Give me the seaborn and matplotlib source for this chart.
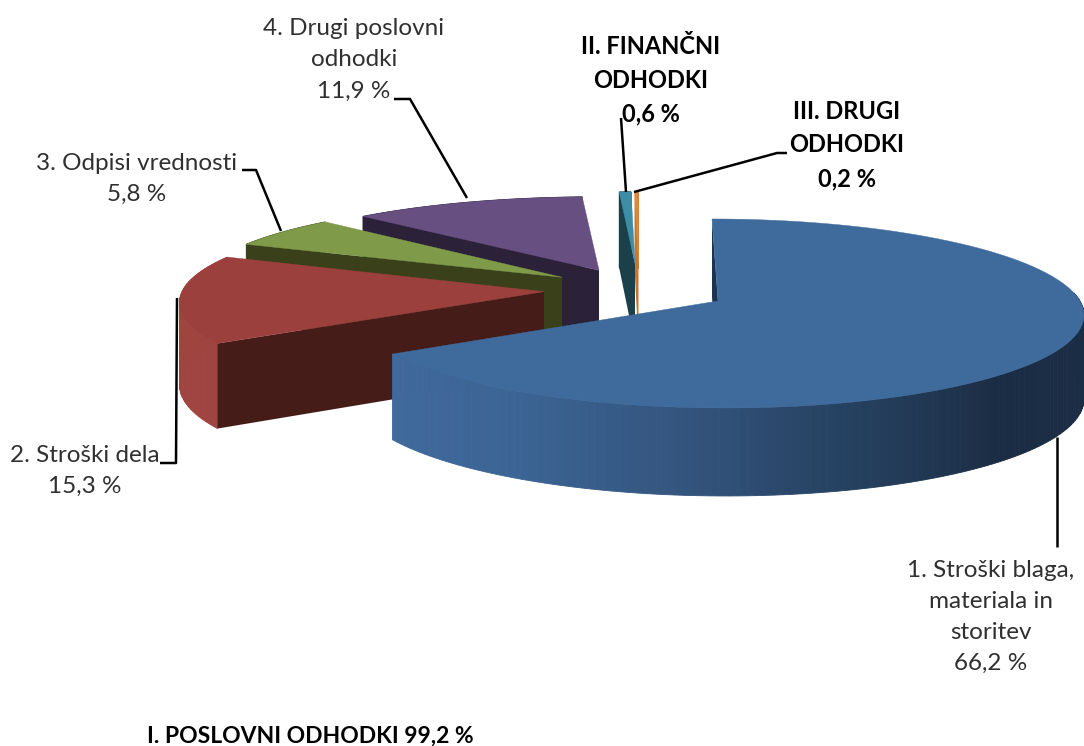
import numpy as np
import matplotlib
matplotlib.use('Agg')
import matplotlib.pyplot as plt
import seaborn as sns

# Podatki
categories = ['1. Stroški blaga,\nmateriala in\nstoritev', '2. Stroški dela', '3. Odpisi vrednosti',
              '4. Drugi poslovni\nodhodki', 'II. FINANČNI\nODHODKI', 'III. DRUGI\nODHODKI']
values = [66.2, 15.3, 5.8, 11.9, 0.6, 0.2]
group_label = 'I. POSLOVNI ODHODKI'
group_value = 99.2

top_colors = ['#3f6a9c', '#9b403d', '#7f9a48', '#674f82', '#3b8ea6', '#e0873a']
wall_colors = ['#1c3350', '#461c18', '#3a4019', '#2b2138', '#1c4049', '#c9752e']
arc_colors = ['#1c3350', '#a04440', '#3a4019', '#2b2138', '#1c4049', '#c9752e']

# Geometrija 3D torte (piksli)
RX, RY, DEPTH = 362, 94.5, 83
CENTER_Y = 301
PERSP = 0.132
SHEAR = 0.073
apex_x = [718, 544, 562, 599, 635, 638.5]
lift = [0.0, 0.1, 0.26, 0.34, 0.42, 0.42]


def project(theta, apex, v0, radius=1.0):
    # theta je v stopinjah, v smeri urinega kazalca od vrha
    t = np.radians(theta)
    s, c = np.sin(t) * radius, np.cos(t) * radius
    v = v0 + c
    y = CENTER_Y - RY * v * (1 - PERSP * v)
    y0 = CENTER_Y - RY * v0 * (1 - PERSP * v0)
    x = apex + RX * s * (1 - PERSP * c) + SHEAR * (1 - v0 / 0.42) * (y - y0)
    d = DEPTH * (1 - 0.06 * v)
    return x, y, d


def draw_strips(angles, colors, apex, v0, z):
    # zunanja stena po majhnih kosih, da se poligon ne prekriva sam s sabo
    for k, col in enumerate(colors):
        sx, sy, sd = project(np.linspace(angles[k], angles[k + 1], 4), apex, v0)
        ax.fill(np.r_[sx, sx[::-1]], np.r_[sy, (sy + sd)[::-1]], color=col, lw=0.6, zorder=z)


sns.set_theme(style='white')
fig = plt.figure(figsize=(10.84, 7.46), dpi=100)
ax = fig.add_axes([0, 0, 1, 1])
ax.set_xlim(0, 1084)
ax.set_ylim(746, 0)
ax.axis('off')

# Koti rezin iz vrednosti
edges = np.concatenate([[0], np.cumsum(values)]) / sum(values) * 360
blue_wall = sns.blend_palette(['#3f6a9c', '#3c6595', '#34557f', '#25405f', '#1b2d44', '#1b2d44', '#1b2d44'], 120)

# Risemo od zadaj naprej, modra rezina je zadnja
for i in [3, 2, 1, 4, 5, 0]:
    a0, a1 = edges[i], edges[i + 1]
    th = np.linspace(a0, a1, 100)
    x, y, d = project(th, apex_x[i], lift[i])
    ax0, ay0, ad0 = project(0, apex_x[i], lift[i], radius=0.0)
    wx, wy, wd = project(a0, apex_x[i], lift[i])

    if i == 0:
        ax.fill([wx, ax0, ax0, wx], [wy, ay0, ay0 + ad0, wy + wd], color=wall_colors[i], lw=0, zorder=20)
        draw_strips(np.linspace(a1, 85, len(blue_wall) + 1), blue_wall, apex_x[i], lift[i], 20)
    else:
        draw_strips(np.linspace(a0, a1, 40), [arc_colors[i]] * 39, apex_x[i], lift[i], 10 - i)
        ax.fill([wx, ax0, ax0, wx], [wy, ay0, ay0 + ad0, wy + wd], color=wall_colors[i], lw=0, zorder=10 - i)

    # zgornja ploskev
    z = 40 if i == 0 else 10 - i
    ax.fill(np.r_[ax0, x], np.r_[ay0, y], color=top_colors[i], lw=0.3, zorder=z)

# Crte do oznak
leaders = [([1057, 1057], [437, 547]),
           ([160, 176, 177], [463, 463, 298]),
           ([242, 256, 281], [170, 170, 231]),
           ([394, 410, 467], [99, 99, 198]),
           ([621, 626], [118, 192]),
           ([634, 777, 787], [192, 153, 153])]
for lx, ly in leaders:
    ax.plot(lx, ly, color='black', lw=1.8, zorder=30 if lx[0] != 1057 else 0.5, solid_capstyle='butt')


def pct(v):
    return f'{v:.1f} %'.replace('.', ',')


# Oznake
label_x = [991, 85, 137, 354, 651, 847]
label_y = [617, 471, 179, 60, 80, 145]
for i, cat in enumerate(categories):
    bold = i >= 4
    ax.text(label_x[i], label_y[i], cat + '\n' + pct(values[i]), ha='center', va='center', multialignment='center',
            family='Lato', fontsize=17 if bold else 17.5, linespacing=1.57 if bold else 1.6,
            fontweight='bold' if bold else 'normal', color='black' if bold else '#303030', zorder=50)
ax.text(310, 736, f'{group_label} {pct(group_value)}', ha='center', va='center', family='Lato',
        fontsize=16.5, fontweight='bold', color='black')

fig.savefig('out.png', dpi=100)
